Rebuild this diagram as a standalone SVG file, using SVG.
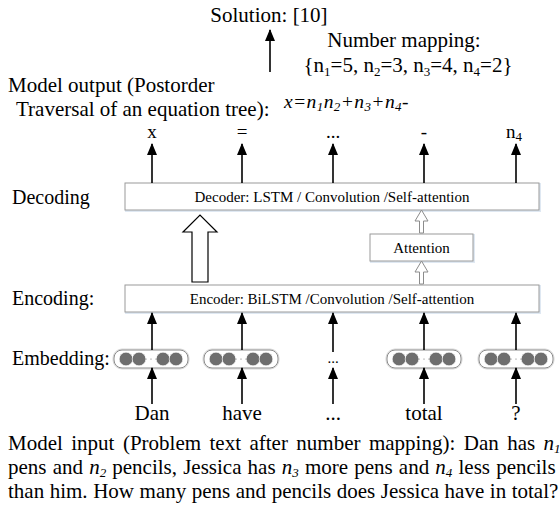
<svg xmlns="http://www.w3.org/2000/svg" width="560" height="506" viewBox="0 0 560 506">
<defs>
<style>
text{font-family:"Liberation Serif","Times New Roman",serif;fill:#000}
.lbl{font-size:21px}
.side{font-size:20px}
.box{fill:#fff;stroke:#9a9a9a;stroke-width:1}
.shadow{fill:none;stroke:#dfe8f2;stroke-width:2}
.ar{stroke:#000;stroke-width:1.6;fill:none}
.hollow{fill:#fff;stroke:#8c8c8c;stroke-width:1}
.big{fill:#fff;stroke:#000;stroke-width:1.2}
.pill{fill:#fff;stroke:#8a8a8a;stroke-width:1}
.pill2{fill:none;stroke:#d8d8d8;stroke-width:1}
.dot{fill:#6e6e6e;stroke:#fff;stroke-width:0.6}
.sm{fill:#666}
.inner{font-size:15px}
</style>
<marker id="ah" markerUnits="userSpaceOnUse" markerWidth="12" markerHeight="10" refX="11" refY="5" orient="auto" viewBox="0 0 12 10">
<path d="M0,0 L12,5 L0,10 Z" fill="#000"/>
</marker>
<g id="emb">
<rect class="pill2" x="-38" y="-10" width="76" height="20" rx="9"/>
<rect class="pill" x="-37" y="-9" width="74" height="18" rx="8"/>
<circle class="dot" cx="-25" cy="0" r="6.8"/>
<circle class="dot" cx="-12" cy="0" r="6.8"/>
<circle class="dot" cx="12" cy="0" r="6.8"/>
<circle class="dot" cx="25" cy="0" r="6.8"/>
<circle class="sm" cx="-5" cy="0" r="0.6"/>
<circle class="sm" cx="0" cy="0" r="0.6"/>
<circle class="sm" cx="5" cy="0" r="0.6"/>
</g>
</defs>
<rect width="560" height="506" fill="#fff"/>

<g id="solution">
<text class="lbl" x="269" y="22" text-anchor="middle">Solution: [10]</text>
</g>
<g id="mapping">
<text class="lbl" x="404" y="47" text-anchor="middle">Number mapping:</text>
<text class="lbl" x="408" y="72" text-anchor="middle">{n<tspan font-size="13" dy="4">1</tspan><tspan dy="-4">=5, n</tspan><tspan font-size="13" dy="4">2</tspan><tspan dy="-4">=3, n</tspan><tspan font-size="13" dy="4">3</tspan><tspan dy="-4">=4, n</tspan><tspan font-size="13" dy="4">4</tspan><tspan dy="-4">=2}</tspan></text>
</g>
<g id="model-output">
<text class="lbl" x="8" y="92">Model output (Postorder</text>
<text class="lbl" x="16" y="116">Traversal of an equation tree):</text>
<text x="284" y="108" font-size="19.5" font-style="italic" letter-spacing="0.4">x=n<tspan font-size="13" dy="3">1</tspan><tspan dy="-3">n</tspan><tspan font-size="13" dy="3">2</tspan><tspan dy="-3">+n</tspan><tspan font-size="13" dy="3">3</tspan><tspan dy="-3">+n</tspan><tspan font-size="13" dy="3">4</tspan><tspan dy="-3">-</tspan></text>
</g>
<g id="outputs">
<text x="152" y="138" text-anchor="middle" font-size="19">x</text>
<text x="242" y="138" text-anchor="middle" font-size="19">=</text>
<text x="333" y="138" text-anchor="middle" font-size="19">...</text>
<text x="424" y="138" text-anchor="middle" font-size="19">-</text>
<text x="506" y="138" font-size="19">n<tspan font-size="13" dy="3">4</tspan></text>
</g>

<g id="labels">
<text class="side" x="12" y="204">Decoding</text>
<text class="side" x="12" y="305">Encoding:</text>
<text class="side" x="12" y="365">Embedding:</text>
</g>

<g id="decoder">
<rect class="shadow" x="126" y="184" width="414" height="27"/>
<rect class="box" x="125" y="183" width="414" height="27"/>
<text class="inner" x="332" y="202" text-anchor="middle">Decoder: LSTM / Convolution /Self-attention</text>
</g>
<g id="attention">
<rect class="shadow" x="371" y="235" width="103" height="27"/>
<rect class="box" x="370" y="234" width="103" height="27"/>
<text class="inner" x="421.5" y="253" text-anchor="middle">Attention</text>
</g>
<g id="encoder">
<rect class="shadow" x="126" y="286" width="414" height="27"/>
<rect class="box" x="125" y="285" width="414" height="27"/>
<text class="inner" x="332" y="304" text-anchor="middle">Encoder: BiLSTM /Convolution /Self-attention</text>
</g>

<g id="embeddings">
<use href="#emb" x="151" y="359"/>
<use href="#emb" x="241" y="359"/>
<text x="333" y="363" text-anchor="middle" font-size="15">...</text>
<use href="#emb" x="424" y="359"/>
<use href="#emb" x="516" y="359"/>
</g>

<g id="words">
<text class="lbl" x="152" y="420" text-anchor="middle">Dan</text>
<text class="lbl" x="242" y="420" text-anchor="middle">have</text>
<text class="lbl" x="333" y="420" text-anchor="middle">...</text>
<text class="lbl" x="424" y="420" text-anchor="middle">total</text>
<text class="lbl" x="516" y="420" text-anchor="middle">?</text>
</g>

<g id="model-input">
<text class="lbl" x="8" y="450" word-spacing="3.2">Model input (Problem text after number mapping): Dan has <tspan font-style="italic">n</tspan><tspan font-style="italic" font-size="13" dy="3">1</tspan></text>
<text class="lbl" x="8" y="474" word-spacing="0.9">pens and <tspan font-style="italic">n</tspan><tspan font-style="italic" font-size="13" dy="3">2</tspan><tspan dy="-3"> pencils, Jessica has </tspan><tspan font-style="italic">n</tspan><tspan font-style="italic" font-size="13" dy="3">3</tspan><tspan dy="-3"> more pens and </tspan><tspan font-style="italic">n</tspan><tspan font-style="italic" font-size="13" dy="3">4</tspan><tspan dy="-3"> less pencils</tspan></text>
<text class="lbl" x="8" y="498" word-spacing="0.3">than him. How many pens and pencils does Jessica have in total?</text>
</g>

<g id="connectors">
<line class="ar" x1="270" y1="72" x2="270" y2="30" marker-end="url(#ah)"/>
<line class="ar" x1="152" y1="183" x2="152" y2="144" marker-end="url(#ah)"/>
<line class="ar" x1="242" y1="183" x2="242" y2="144" marker-end="url(#ah)"/>
<line class="ar" x1="333" y1="183" x2="333" y2="144" marker-end="url(#ah)"/>
<line class="ar" x1="424" y1="183" x2="424" y2="144" marker-end="url(#ah)"/>
<line class="ar" x1="516" y1="183" x2="516" y2="144" marker-end="url(#ah)"/>
<path class="big" d="M192,282 L192,232 L183,232 L200,215 L217,232 L208,232 L208,282 Z"/>
<path class="hollow" d="M419.5,233 L419.5,221 L415,221 L421.5,210 L428,221 L423.5,221 L423.5,233 Z"/>
<path class="hollow" d="M419.5,284 L419.5,272 L415,272 L421.5,261 L428,272 L423.5,272 L423.5,284 Z"/>
<line class="ar" x1="152" y1="350" x2="152" y2="313" marker-end="url(#ah)"/>
<line class="ar" x1="242" y1="350" x2="242" y2="313" marker-end="url(#ah)"/>
<line class="ar" x1="333" y1="352" x2="333" y2="313" marker-end="url(#ah)"/>
<line class="ar" x1="424" y1="350" x2="424" y2="313" marker-end="url(#ah)"/>
<line class="ar" x1="516" y1="350" x2="516" y2="313" marker-end="url(#ah)"/>
<line class="ar" x1="152" y1="404" x2="152" y2="368" marker-end="url(#ah)"/>
<line class="ar" x1="242" y1="404" x2="242" y2="368" marker-end="url(#ah)"/>
<line class="ar" x1="333" y1="404" x2="333" y2="368" marker-end="url(#ah)"/>
<line class="ar" x1="424" y1="404" x2="424" y2="368" marker-end="url(#ah)"/>
<line class="ar" x1="516" y1="404" x2="516" y2="368" marker-end="url(#ah)"/>
</g>
</svg>
